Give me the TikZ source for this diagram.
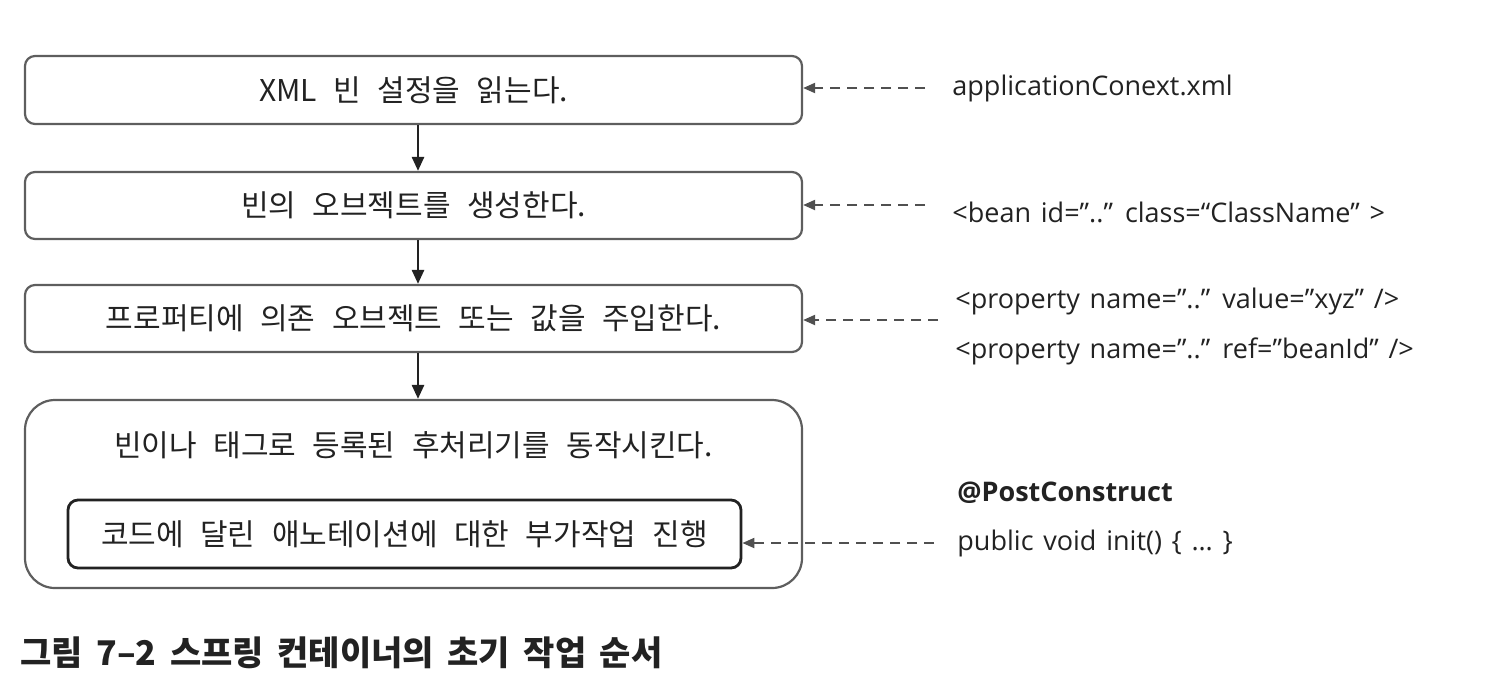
\documentclass[tikz,border=0pt]{standalone}
\usepackage{fontspec}
\setmainfont{Open Sans}
\newfontfamily\krfont{Noto Sans CJK KR}
\newcommand\krboxfont{\krfont\fontsize{15}{18}\selectfont\spaceskip=0.55em\relax}
\newcommand\codefont{\fontsize{13.5}{16}\selectfont\spaceskip=0.36em\relax}
\newcommand\capfont{\krfont\bfseries\fontsize{17}{20}\selectfont\spaceskip=0.4em\relax}
\usetikzlibrary{arrows.meta}
\definecolor{boxgray}{HTML}{5E5E5E}
\definecolor{ink}{HTML}{222222}
\definecolor{dashgray}{HTML}{505050}
\begin{document}
\begin{tikzpicture}[x=0.5pt,y=-0.5pt,
  box/.style={draw=boxgray, line width=1.1pt, rounded corners=5pt, inner sep=0pt,
    minimum width=388.5pt, text=ink, font=\krboxfont},
  bigbox/.style={box, rounded corners=15pt},
  innerbox/.style={box, draw=ink, line width=1.4pt, minimum width=336.5pt, minimum height=34pt},
  flow/.style={draw=ink, line width=1.3pt, -{Triangle[length=7pt,width=6pt]}},
  dasharrow/.style={draw=dashgray, line width=1pt, dash pattern=on 5pt off 3.5pt, -{Triangle[length=6pt,width=5pt]}},
  code/.style={anchor=west, inner sep=0pt, text=ink, font=\codefont},
  krtext/.style={inner sep=0pt, text=ink, font=\krboxfont}
]
\useasboundingbox (0,0) rectangle (1492,681);

\node[box, minimum height=34pt] (b1) at (413.5,90) {XML 빈 설정을 읽는다.};
\node[box, minimum height=33.5pt] (b2) at (413.5,205.5) {빈의 오브젝트를 생성한다.};
\node[box, minimum height=33.5pt] (b3) at (413.5,318.5) {프로퍼티에 의존 오브젝트 또는 값을 주입한다.};
\node[bigbox, minimum height=94pt] (b4) at (413.5,494) {};
\node[krtext] (b4t) at (413.5,445) {빈이나 태그로 등록된 후처리기를 동작시킨다.};
\node[innerbox] (in) at (404.5,534) {코드에 달린 애노테이션에 대한 부가작업 진행};

\draw[flow] ([xshift=2.25pt]b1.south) -- ([xshift=2.25pt]b2.north);
\draw[flow] ([xshift=2.25pt]b2.south) -- ([xshift=2.25pt]b3.north);
\draw[flow] ([xshift=2.25pt]b3.south) -- ([xshift=2.25pt]b4.north);

\coordinate (s1) at (925,88);
\coordinate (s2) at (925,205);
\coordinate (s3) at (938,320);
\coordinate (s4) at (934,543);
\draw[dasharrow] (s1) -- (s1 -| b1.east);
\draw[dasharrow] (s2) -- (s2 -| b2.east);
\draw[dasharrow] (s3) -- (s3 -| b3.east);
\draw[dasharrow] (s4) -- (s4 -| in.east);

\node[code] (t1) at (952,88) {applicationConext.xml};
\node[code] (t2) at (952,212) {<bean id=”..” class=“ClassName” >};
\node[code] (t3) at (955,301) {<property name=”..” value=”xyz” />};
\node[code] (t4) at (955,351) {<property name=”..” ref=”beanId” />};
\node[code, font=\codefont\bfseries] (t5) at (957,493) {@PostConstruct};
\node[code] (t6) at (957,543) {public void init() \{ … \}};

\node[anchor=west, inner sep=0pt, text=ink, font=\capfont] (cap) at (20,653) {그림 7–2 스프링 컨테이너의 초기 작업 순서};
\end{tikzpicture}
\end{document}
